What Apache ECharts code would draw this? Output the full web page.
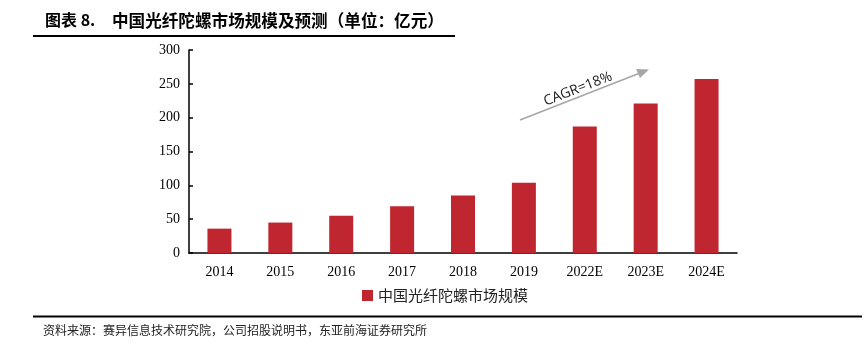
<!DOCTYPE html>
<html>
<head>
<meta charset="utf-8">
<script src="https://cdn.jsdelivr.net/npm/echarts@6/dist/echarts.min.js"></script>
<style>
html,body{margin:0;padding:0;background:#fff;}
#c{width:866px;height:346px;}
</style>
</head>
<body>
<div id="c"></div>
<script>
var categories = ['2014','2015','2016','2017','2018','2019','2022E','2023E','2024E'];
var marketSize = [36, 45, 55, 69, 85, 104, 187, 221, 257];
var yTicks = [0, 50, 100, 150, 200, 250, 300];
var seriesName = '中国光纤陀螺市场规模';
var titleLabel = '图表 8.';
var titleText = '中国光纤陀螺市场规模及预测（单位：亿元）';
var sourceText = '资料来源：赛异信息技术研究院，公司招股说明书，东亚前海证券研究所';
var cagrText = 'CAGR=18%';

var chart = echarts.init(document.getElementById('c'));
chart.setOption({
  backgroundColor: '#fff',
  animation: false,
  grid: {left: 189, right: 129, top: 50, bottom: 93},
  legend: {
    data: [seriesName],
    bottom: 38,
    left: 357,
    itemWidth: 11,
    itemHeight: 11,
    itemGap: 5,
    icon: 'rect',
    textStyle: {fontFamily: 'Noto Sans CJK SC', fontSize: 15, color: '#222'}
  },
  xAxis: {
    type: 'category',
    data: categories,
    axisLine: {lineStyle: {color: '#000', width: 1.5}},
    axisTick: {show: false},
    axisLabel: {fontFamily: 'Liberation Serif', fontSize: 14, color: '#000', margin: 12}
  },
  yAxis: {
    type: 'value',
    min: yTicks[0],
    max: yTicks[yTicks.length - 1],
    interval: 50,
    axisLine: {show: true, lineStyle: {color: '#000', width: 1.5}},
    axisTick: {show: true, length: 4, inside: true, lineStyle: {color: '#000', width: 1.5}},
    splitLine: {show: false},
    axisLabel: {fontFamily: 'Liberation Serif', fontSize: 14, color: '#000', margin: 9}
  },
  series: [{
    name: seriesName,
    type: 'bar',
    data: marketSize,
    barWidth: 24,
    itemStyle: {color: '#C0262F'}
  }],
  graphic: [
    {type: 'text', left: 45, top: 12, style: {text: titleLabel, font: 'bold 16px "Noto Sans CJK SC"', fill: '#000'}},
    {type: 'text', left: 112, top: 12, style: {text: titleText, font: 'bold 16.6px "Noto Sans CJK SC"', fill: '#000'}},
    {type: 'line', shape: {x1: 33, y1: 36, x2: 455, y2: 36}, style: {stroke: '#000', lineWidth: 2}},
    {type: 'line', shape: {x1: 33, y1: 316.5, x2: 862, y2: 316.5}, style: {stroke: '#000', lineWidth: 2}},
    {type: 'text', left: 43, top: 324, style: {text: sourceText, font: '12px "Noto Sans CJK SC"', fill: '#222'}},
    {type: 'line', shape: {x1: 520, y1: 120, x2: 640, y2: 73}, style: {stroke: '#A6A6A6', lineWidth: 1.5}},
    {type: 'polygon', shape: {points: [[649, 69.5], [636, 69], [640, 78]]}, style: {fill: '#A6A6A6'}},
    {type: 'text', x: 578, y: 89, rotation: 21 * Math.PI / 180, style: {text: cagrText, font: '14px "Open Sans"', fill: '#222', align: 'center', verticalAlign: 'middle'}}
  ]
});
</script>
</body>
</html>
